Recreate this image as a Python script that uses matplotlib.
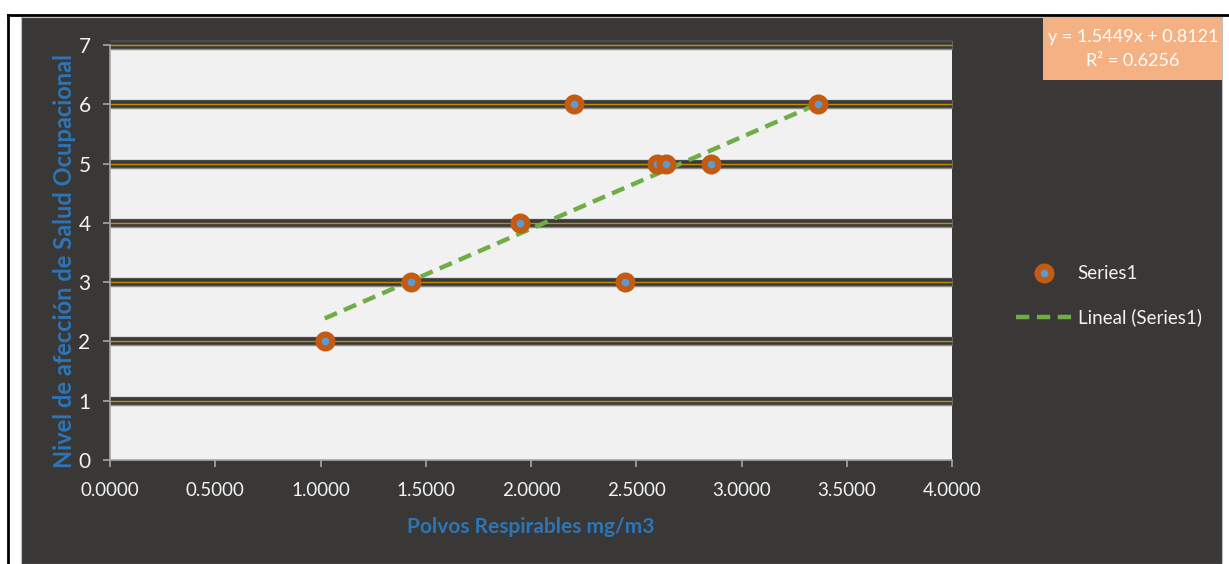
import matplotlib.pyplot as plt
from matplotlib.patches import Rectangle
from matplotlib.lines import Line2D

# datos
polvos = [1.02, 1.43, 1.948, 2.204, 2.447, 2.598, 2.641, 2.855, 3.363]
nivel = [2, 3, 4, 6, 3, 5, 5, 5, 6]
pendiente = 1.5449
intercepto = 0.8121
r2 = 0.6256
xticks = [0, 0.5, 1.0, 1.5, 2.0, 2.5, 3.0, 3.5, 4.0]
yticks = [0, 1, 2, 3, 4, 5, 6, 7]

fondo = '#3a3837'
azul = '#2e75b6'
naranja = '#c55a11'
verde = '#70ad47'
fuente = 'Lato'

fig = plt.figure(figsize=(12.29, 5.64), dpi=100, facecolor='white')

# fondo oscuro del área del gráfico y bordes
fig.patches.append(Rectangle((21 / 1229, 0), 1201 / 1229, 1 - 17 / 564,
                             transform=fig.transFigure, facecolor=fondo,
                             edgecolor='#bfbfbf', linewidth=0.8, zorder=-5))
fig.lines.append(Line2D([8 / 1229, 8 / 1229], [0, 1 - 15 / 564], transform=fig.transFigure,
                        color='black', linewidth=2, zorder=-4))
fig.lines.append(Line2D([8 / 1229, 1], [1 - 15 / 564, 1 - 15 / 564], transform=fig.transFigure,
                        color='black', linewidth=2, zorder=-4))

ax = fig.add_axes([110 / 1229, 1 - 460 / 564, 842 / 1229, 415 / 564])
ax.set_zorder(1)
ax.set_facecolor('#f1f1f1')
ax.set_xlim(0, 4)
ax.set_ylim(0, 7)

# líneas de cuadrícula: banda oscura con línea dorada
for y in yticks[1:]:
    ax.axhline(y, color='#8c8c8c', linewidth=6.8, zorder=1, clip_on=False, solid_capstyle='butt')
    ax.axhline(y, color='#3a3a3a', linewidth=5.4, zorder=1.1, clip_on=False, solid_capstyle='butt')
    ax.axhline(y, color='#bf8f00', linewidth=1.0, zorder=1.2, clip_on=False, solid_capstyle='butt')

# línea de tendencia
xs = [min(polvos), max(polvos)]
ys = [pendiente * v + intercepto for v in xs]
ax.plot(xs, ys, linestyle=(0, (3, 1.7)), color=verde, linewidth=3.2, zorder=3)

ax.plot(polvos, nivel, linestyle='none', marker='o', markersize=10,
        markerfacecolor='#5b9bd5', markeredgecolor=naranja, markeredgewidth=4.4, zorder=4)

for lado in ['top', 'right']:
    ax.spines[lado].set_visible(False)
for lado in ['left', 'bottom']:
    ax.spines[lado].set_color('#a6a6a6')
    ax.spines[lado].set_linewidth(1.2)

ax.set_xticks(xticks)
ax.set_xticklabels([f'{v:.4f}' for v in xticks])
ax.set_yticks(yticks)
ax.tick_params(colors='#a6a6a6', length=5, width=1.2, labelcolor='#f2f2f2', labelsize=13.5)
for lbl in ax.get_xticklabels() + ax.get_yticklabels():
    lbl.set_fontfamily(fuente)
ax.tick_params(axis='x', pad=11)
ax.tick_params(axis='y', pad=9, labelsize=15)

ax.set_xlabel('Polvos Respirables mg/m3', color=azul, fontsize=15, fontweight='bold',
              fontfamily=fuente)
ax.xaxis.set_label_coords(0.5, -0.138)
ax.set_ylabel('Nivel de afección de Salud Ocupacional', color=azul, fontsize=17,
              fontweight='bold', fontfamily=fuente)
ax.yaxis.set_label_coords(-0.040, 0.48)

# cuadro con la ecuación
fig.patches.append(Rectangle((1043 / 1229, 1 - 80 / 564), 179 / 1229, 63 / 564,
                             transform=fig.transFigure, facecolor='#f4b183', zorder=2))
fig.text(1133 / 1229, 1 - 49 / 564,
         f'y = {pendiente}x + {intercepto}\nR² = {r2}',
         ha='center', va='center', color='white', fontsize=13, fontfamily=fuente,
         linespacing=1.6, zorder=3)

# leyenda
handles = [
    Line2D([], [], linestyle='none', marker='o', markersize=10, markerfacecolor='#5b9bd5',
           markeredgecolor=naranja, markeredgewidth=4.4),
    Line2D([], [], linestyle=(0, (3, 1.7)), color=verde, linewidth=3.2),
]
leg = fig.legend(handles, ['Series1', 'Lineal (Series1)'], loc='center left',
                 bbox_to_anchor=(999 / 1229, 1 - 296 / 564), frameon=False,
                 labelspacing=1.4, handlelength=3.0, handletextpad=0.3,
                 prop={'family': fuente, 'size': 13.5})
for t in leg.get_texts():
    t.set_color('#f2f2f2')

fig.savefig('out.png', dpi=100, facecolor='white')
